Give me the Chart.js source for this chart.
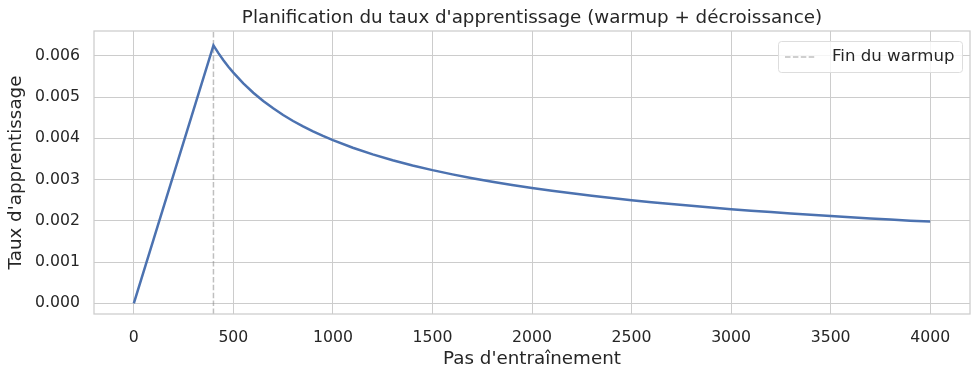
<!DOCTYPE html>
<html>
<head>
<meta charset="utf-8">
<script src="https://cdn.jsdelivr.net/npm/chart.js@4.4.1/dist/chart.umd.min.js"></script>
<style>
  html, body { margin: 0; padding: 0; background: #fff; }
  #wrap { width: 980px; height: 380px; }
</style>
</head>
<body>
<div id="wrap"><canvas id="lrChart" width="980" height="380"></canvas></div>
<script>
// pas d'entraînement et taux
const steps = [0, 100, 200, 300, 400, 425, 450, 475, 500, 550, 600, 650, 700, 750, 800, 850, 900, 950,
    1000, 1100, 1200, 1300, 1400, 1500, 1600, 1700, 1800, 1900, 2000, 2100, 2200, 2300, 2400, 2500,
    2600, 2700, 2800, 2900, 3000, 3100, 3200, 3300, 3400, 3500, 3600, 3700, 3800, 3900, 4000];
const learningRates = [0.0, 0.0015625, 0.003125, 0.0046875, 0.00625, 0.006063, 0.005893, 0.005735,
    0.00559, 0.00533, 0.005103, 0.004903, 0.004725, 0.004564, 0.004419, 0.004287, 0.004167, 0.004056,
    0.003953, 0.003769, 0.003608, 0.003467, 0.003341, 0.003227, 0.003125, 0.003032, 0.002946, 0.002868,
    0.002795, 0.002728, 0.002665, 0.002606, 0.002552, 0.0025, 0.002451, 0.002406, 0.002362, 0.002321,
    0.002282, 0.002245, 0.00221, 0.002176, 0.002144, 0.002113, 0.002083, 0.002055, 0.002028, 0.002002,
    0.001985];
const warmupEnd = 400;
const xTicks = [0, 500, 1000, 1500, 2000, 2500, 3000, 3500, 4000];
const yTicks = [0, 0.001, 0.002, 0.003, 0.004, 0.005, 0.006];
const xRange = [-200, 4200];
const yRange = [-0.00026, 0.0066];

const FONT = "'DejaVu Sans', sans-serif";
const TEXT = '#262626';
const GRID = '#cccccc';
const TITLE = "Planification du taux d'apprentissage (warmup + décroissance)";

const frameAndLegend = {
    id: 'frameAndLegend',
    afterDatasetsDraw(chart) {
        const { ctx, chartArea: a } = chart;
        ctx.save();
        ctx.strokeStyle = GRID;
        ctx.lineWidth = 1.25;
        ctx.strokeRect(a.left, a.top, a.right - a.left, a.bottom - a.top);

        // titre centré sur la zone de tracé
        ctx.fillStyle = TEXT;
        ctx.font = '18.3px ' + FONT;
        ctx.textAlign = 'center';
        ctx.textBaseline = 'middle';
        ctx.fillText(TITLE, (a.left + a.right) / 2, 18);

        // légende
        const x0 = 778, y0 = 41, w = 184, h = 31;
        ctx.fillStyle = 'rgba(255,255,255,0.8)';
        ctx.strokeStyle = '#dddddd';
        ctx.lineWidth = 1;
        ctx.beginPath();
        ctx.roundRect(x0 + 0.5, y0 + 0.5, w, h, 3);
        ctx.fill();
        ctx.stroke();
        ctx.strokeStyle = 'rgba(128,128,128,0.5)';
        ctx.lineWidth = 1.5;
        ctx.setLineDash([5.5, 2.4]);
        ctx.beginPath();
        ctx.moveTo(785, 57);
        ctx.lineTo(815, 57);
        ctx.stroke();
        ctx.setLineDash([]);
        ctx.fillStyle = TEXT;
        ctx.font = '16.6px ' + FONT;
        ctx.textAlign = 'left';
        ctx.fillText('Fin du warmup', 832, 57);
        ctx.restore();
    }
};

new Chart(document.getElementById('lrChart').getContext('2d'), {
    type: 'scatter',
    data: {
        datasets: [{
            label: 'lr',
            data: steps.map((s, i) => ({ x: s, y: learningRates[i] })),
            showLine: true,
            borderColor: '#4c72b0',
            borderWidth: 2.5,
            pointRadius: 0,
            tension: 0,
            order: 1
        }, {
            label: 'Fin du warmup',
            data: [{ x: warmupEnd, y: yRange[0] }, { x: warmupEnd, y: yRange[1] }],
            showLine: true,
            borderColor: 'rgba(128,128,128,0.5)',
            borderWidth: 1.5,
            borderDash: [5.5, 2.4],
            pointRadius: 0,
            order: 2
        }]
    },
    options: {
        responsive: false,
        animation: false,
        devicePixelRatio: 1,
        layout: { padding: { left: 0, right: 10, top: 31, bottom: 0 } },
        plugins: {
            legend: { display: false },
            tooltip: { enabled: false },
            title: { display: false }
        },
        scales: {
            x: {
                type: 'linear',
                min: xRange[0],
                max: xRange[1],
                afterBuildTicks: s => { s.ticks = xTicks.map(v => ({ value: v })); },
                afterFit: s => { s.height = 66; },
                grid: { color: GRID, lineWidth: 1, drawTicks: false },
                border: { display: false },
                ticks: {
                    color: TEXT,
                    font: { family: FONT, size: 15.7 },
                    padding: 15,
                    maxRotation: 0,
                    callback: v => String(v)
                },
                title: {
                    display: true,
                    text: "Pas d'entraînement",
                    color: TEXT,
                    font: { family: FONT, size: 18.3 },
                    padding: { top: 0, bottom: 10 }
                }
            },
            y: {
                type: 'linear',
                min: yRange[0],
                max: yRange[1],
                afterBuildTicks: s => { s.ticks = yTicks.map(v => ({ value: v })); },
                afterFit: s => { s.width = 94; },
                grid: { color: GRID, lineWidth: 1, drawTicks: false },
                border: { display: false },
                ticks: {
                    color: TEXT,
                    font: { family: FONT, size: 15.7 },
                    padding: 14,
                    callback: v => v.toFixed(3)
                },
                title: {
                    display: true,
                    text: "Taux d'apprentissage",
                    color: TEXT,
                    font: { family: FONT, size: 18.3 },
                    padding: { top: 5, bottom: 0 }
                }
            }
        }
    },
    plugins: [frameAndLegend]
});
</script>
</body>
</html>
